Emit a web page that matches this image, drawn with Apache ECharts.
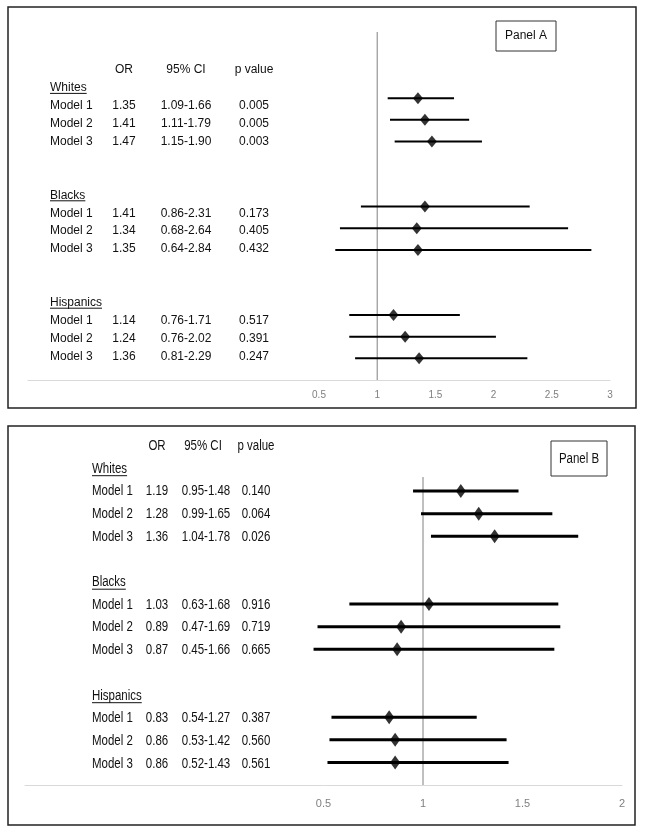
<!DOCTYPE html>
<html>
<head>
<meta charset="utf-8">
<script src="https://cdn.jsdelivr.net/npm/echarts@6/dist/echarts.min.js"></script>
<style>html,body{margin:0;padding:0;background:#fff}#c{width:645px;height:834px}</style>
</head>
<body>
<div id="c"></div>
<script>
// ---------- data ----------
const groups = ['Whites', 'Blacks', 'Hispanics'];
const models = ['Model 1', 'Model 2', 'Model 3'];
const headers = ['OR', '95% CI', 'p value'];
const panelNames = ['Panel A', 'Panel B'];

const orA = [1.35, 1.41, 1.47, 1.41, 1.34, 1.35, 1.14, 1.24, 1.36];
const loA = [1.09, 1.11, 1.15, 0.86, 0.68, 0.64, 0.76, 0.76, 0.81];
const hiA = [1.66, 1.79, 1.90, 2.31, 2.64, 2.84, 1.71, 2.02, 2.29];
const orTxtA = ['1.35', '1.41', '1.47', '1.41', '1.34', '1.35', '1.14', '1.24', '1.36'];
const ciTxtA = ['1.09-1.66', '1.11-1.79', '1.15-1.90', '0.86-2.31', '0.68-2.64', '0.64-2.84', '0.76-1.71', '0.76-2.02', '0.81-2.29'];
const pA = ['0.005', '0.005', '0.003', '0.173', '0.405', '0.432', '0.517', '0.391', '0.247'];

const orB = [1.19, 1.28, 1.36, 1.03, 0.89, 0.87, 0.83, 0.86, 0.86];
const loB = [0.95, 0.99, 1.04, 0.63, 0.47, 0.45, 0.54, 0.53, 0.52];
const hiB = [1.48, 1.65, 1.78, 1.68, 1.69, 1.66, 1.27, 1.42, 1.43];
const orTxtB = ['1.19', '1.28', '1.36', '1.03', '0.89', '0.87', '0.83', '0.86', '0.86'];
const ciTxtB = ['0.95-1.48', '0.99-1.65', '1.04-1.78', '0.63-1.68', '0.47-1.69', '0.45-1.66', '0.54-1.27', '0.53-1.42', '0.52-1.43'];
const pB = ['0.140', '0.064', '0.026', '0.916', '0.719', '0.665', '0.387', '0.560', '0.561'];

const refValue = 1;

// ---------- helpers ----------
function rowOf(i) { return 1 + Math.floor(i / 3) * 5 + (i % 3); }
function ciData(lo, hi) { return lo.map((l, i) => [l, hi[i], rowOf(i)]); }
function orData(or) { return or.map((v, i) => [v, rowOf(i)]); }

const measureCtx = document.createElement('canvas').getContext('2d');
function textWidth(t, font) { measureCtx.font = font; return measureCtx.measureText(t).width; }

const FONT = '"Liberation Sans", Arial, sans-serif';

function makeTable(cfg) {
  const els = [];
  const sx = cfg.scaleX;
  const txt = (x, y, t, align) => ({
    type: 'text', x: x, y: y, scaleX: sx, scaleY: 1, silent: true,
    style: { x: 0, y: 0, text: t, fill: '#111', font: cfg.fontSize + 'px ' + FONT,
             textAlign: align, textVerticalAlign: 'middle' }
  });
  const y = r => cfg.y0 + r * cfg.dy;
  els.push(txt(cfg.colOR, y(0), headers[0], 'center'));
  els.push(txt(cfg.colCI + cfg.hdrCIshift, y(0), headers[1], 'center'));
  els.push(txt(cfg.colP, y(0), headers[2], 'center'));
  groups.forEach((g, gi) => {
    const gr = cfg.groupRows[gi];
    els.push(txt(cfg.colLabel, y(gr), g, 'left'));
    const w = textWidth(g, cfg.fontSize + 'px ' + FONT) * sx;
    els.push({ type: 'line', silent: true,
      shape: { x1: cfg.colLabel, y1: y(gr) + cfg.ulOff, x2: cfg.colLabel + w, y2: y(gr) + cfg.ulOff },
      style: { stroke: '#111', lineWidth: 1 } });
    models.forEach((m, mi) => {
      const i = gi * 3 + mi;
      const r = gr + 1 + mi;
      els.push(txt(cfg.colLabel, y(r), m, 'left'));
      els.push(txt(cfg.colOR, y(r), cfg.orTxt[i], 'center'));
      els.push(txt(cfg.colCI, y(r), cfg.ciTxt[i], 'center'));
      els.push(txt(cfg.colP, y(r), cfg.p[i], 'center'));
    });
  });
  return els;
}

const tableA = makeTable({
  y0: 70, dy: 17.9, groupRows: [1, 7, 13], fontSize: 12, scaleX: 1,
  colLabel: 50, colOR: 124, colCI: 186, hdrCIshift: 0, colP: 254, ulOff: 5.5,
  orTxt: orTxtA, ciTxt: ciTxtA, p: pA
});
const tableB = makeTable({
  y0: 446, dy: 22.7, groupRows: [1, 6, 11], fontSize: 14, scaleX: 0.82,
  colLabel: 92, colOR: 157, colCI: 206, hdrCIshift: -3, colP: 256, ulOff: 7,
  orTxt: orTxtB, ciTxt: ciTxtB, p: pB
});

const frames = [
  { type: 'rect', silent: true, shape: { x: 8, y: 7, width: 628, height: 401 },
    style: { fill: 'none', stroke: '#222', lineWidth: 1.5 } },
  { type: 'rect', silent: true, shape: { x: 8, y: 426, width: 627, height: 399 },
    style: { fill: 'none', stroke: '#222', lineWidth: 1.5 } },
  { type: 'rect', silent: true, shape: { x: 496, y: 21, width: 60, height: 30 },
    style: { fill: '#fff', stroke: '#333', lineWidth: 1 } },
  { type: 'text', silent: true, x: 526, y: 36,
    style: { text: panelNames[0], font: '12px ' + FONT, fill: '#111', textAlign: 'center', textVerticalAlign: 'middle' } },
  { type: 'rect', silent: true, shape: { x: 551, y: 441, width: 56, height: 35 },
    style: { fill: '#fff', stroke: '#333', lineWidth: 1 } },
  { type: 'text', silent: true, x: 579, y: 459, scaleX: 0.82,
    style: { x: 0, y: 0, text: panelNames[1], font: '14px ' + FONT, fill: '#111', textAlign: 'center', textVerticalAlign: 'middle' } }
];

function ciRender(width) {
  return function (params, api) {
    const p1 = api.coord([api.value(0), api.value(2)]);
    const p2 = api.coord([api.value(1), api.value(2)]);
    return { type: 'line', shape: { x1: p1[0], y1: p1[1], x2: p2[0], y2: p2[1] },
             style: { stroke: '#000', lineWidth: width } };
  };
}

const tickFmt = v => (v >= 0.5 ? String(v) : '');

const chart = echarts.init(document.getElementById('c'), null, { renderer: 'canvas' });
chart.setOption({
  animation: false,
  backgroundColor: '#fff',
  grid: [
    { left: 28, top: 32, width: 582, height: 348 },
    { left: 25, top: 477, width: 597, height: 308 }
  ],
  xAxis: [
    { gridIndex: 0, type: 'value', min: -2, max: 3, interval: 0.5,
      axisLine: { show: true, onZero: false, lineStyle: { color: '#d9d9d9', width: 1 } },
      axisTick: { show: false }, splitLine: { show: false },
      axisLabel: { formatter: tickFmt, color: '#7f7f7f', fontSize: 10, fontFamily: FONT, margin: 10 } },
    { gridIndex: 1, type: 'value', min: -1, max: 2, interval: 0.5,
      axisLine: { show: true, onZero: false, lineStyle: { color: '#d9d9d9', width: 1 } },
      axisTick: { show: false }, splitLine: { show: false },
      axisLabel: { formatter: tickFmt, color: '#7f7f7f', fontSize: 11, fontFamily: FONT, margin: 13 } }
  ],
  yAxis: [
    { gridIndex: 0, type: 'value', min: -2.05, max: 14, inverse: true, show: false },
    { gridIndex: 1, type: 'value', min: 0.38, max: 14, inverse: true, show: false }
  ],
  series: [
    { type: 'line', xAxisIndex: 0, yAxisIndex: 0, data: [[refValue, -2.05], [refValue, 14]],
      symbol: 'none', silent: true, lineStyle: { color: '#808080', width: 1 }, z: 1 },
    { type: 'custom', xAxisIndex: 0, yAxisIndex: 0, data: ciData(loA, hiA),
      encode: { x: [0, 1], y: 2 }, renderItem: ciRender(2), silent: true, z: 2 },
    { type: 'scatter', xAxisIndex: 0, yAxisIndex: 0, data: orData(orA),
      symbol: 'diamond', symbolSize: [10, 12], itemStyle: { color: '#000' }, silent: true, z: 3 },
    { type: 'line', xAxisIndex: 1, yAxisIndex: 1, data: [[refValue, 0.38], [refValue, 14]],
      symbol: 'none', silent: true, lineStyle: { color: '#808080', width: 1 }, z: 1 },
    { type: 'custom', xAxisIndex: 1, yAxisIndex: 1, data: ciData(loB, hiB),
      encode: { x: [0, 1], y: 2 }, renderItem: ciRender(3), silent: true, z: 2 },
    { type: 'scatter', xAxisIndex: 1, yAxisIndex: 1, data: orData(orB),
      symbol: 'diamond', symbolSize: [10, 14], itemStyle: { color: '#000' }, silent: true, z: 3 }
  ],
  graphic: { elements: frames.concat(tableA, tableB) }
});
</script>
</body>
</html>
